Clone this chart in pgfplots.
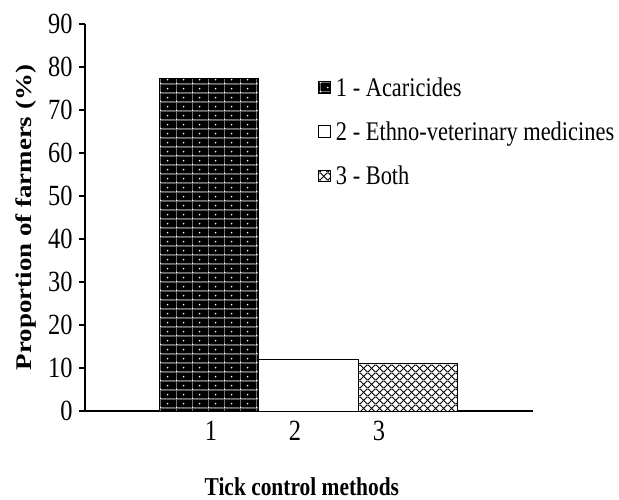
\documentclass[border=0pt]{standalone}
\usepackage{fontspec}
\setmainfont{Liberation Serif}
\usepackage{pgfplots}
\pgfplotsset{compat=1.18}
\usetikzlibrary{patterns.meta}
\usepackage{graphicx}

\tikzdeclarepattern{
  name=acari,
  type=colored,
  bottom left={(0bp,0bp)},
  top right={(16bp,9.3bp)},
  tile size={(16bp,9.3bp)},
  code={
    \fill[black] (0bp,0bp) rectangle (16bp,9.3bp);
    \draw[gray!60, line width=0.5bp] (0bp,0.3bp) -- (16bp,0.3bp);
    \draw[gray!60, line width=0.5bp] (0.3bp,0bp) -- (0.3bp,9.3bp);
    \fill[white] (8bp,4.65bp) circle (0.9bp);
    \fill[white] (0.6bp,0.6bp) circle (0.9bp);
  }
}
\tikzdeclarepattern{
  name=diam,
  type=colored,
  bottom left={(0bp,0bp)},
  top right={(8bp,8bp)},
  tile size={(8bp,8bp)},
  code={
    \fill[white] (0bp,0bp) rectangle (8bp,8bp);
    \draw[black, line width=1bp] (0bp,0bp) -- (8bp,8bp);
    \draw[black, line width=1bp] (0bp,8bp) -- (8bp,0bp);
  }
}

\newcommand{\vs}[1]{\scalebox{1}[1.2]{#1}}

\begin{document}
\begin{tikzpicture}
\useasboundingbox (-85bp,-89bp) rectangle (534bp,411bp);
\begin{axis}[
  at={(0,0)}, anchor=south west,
  scale only axis,
  width=448bp, height=387bp,
  xmin=0, xmax=448,
  ymin=0, ymax=90,
  axis lines=left,
  axis line style={line width=2.2bp, -},
  ytick={0,10,...,90},
  yticklabel={\vs{\pgfmathprintnumber{\tick}}},
  xtick={126,210,294},
  xticklabels={\vs{1},\vs{2},\vs{3}},
  x tick style={draw=none},
  y tick style={line width=2bp, black},
  tick align=outside,
  major tick length=6bp,
  minor tick num=0,
  font=\fontsize{22.5}{27}\selectfont,
  tick label style={font=\fontsize{24.5}{29}\selectfont},
  /pgf/number format/assume math mode=true,
  yticklabel style={xshift=-3bp},
  xticklabel style={yshift=-1bp},
  xlabel={\vs{\textbf{Tick control methods}}},
  ylabel={\scalebox{1.2}[1]{\textbf{Proportion of farmers (\%)}}},
  xlabel style={at={(axis description cs:0.484,-0.196)}, anchor=center, font=\fontsize{21.5}{26}\selectfont},
  ylabel style={at={(axis description cs:-0.1317,0.5)}, anchor=center, font=\fontsize{22.5}{27}\selectfont},
  legend style={at={(axis description cs:0.52,0.867)}, anchor=north west, draw=none, fill=none,
    font=\fontsize{22.5}{27}\selectfont, row sep=20bp, column sep=3bp, inner sep=0bp},
  legend cell align=left,
  legend image code/.code={\draw[#1, line width=0.8bp] (0bp,-5.5bp) rectangle (12bp,6bp);},
  clip=false,
]
\addplot[ybar, bar width=99.5, bar shift=0pt, draw=black, line width=0.8bp, pattern=acari] coordinates {(124,77.4)};
\addlegendentry{\vs{1 - Acaricides}}
\addplot[ybar, bar width=99.5, bar shift=0pt, draw=black, line width=0.8bp, fill=white] coordinates {(223.5,12.0)};
\addlegendentry{\vs{2 - Ethno-veterinary medicines}}
\addplot[ybar, bar width=99.5, bar shift=0pt, draw=black, line width=0.8bp, pattern=diam] coordinates {(323,11.1)};
\addlegendentry{\vs{3 - Both}}
\end{axis}
\end{tikzpicture}
\end{document}
